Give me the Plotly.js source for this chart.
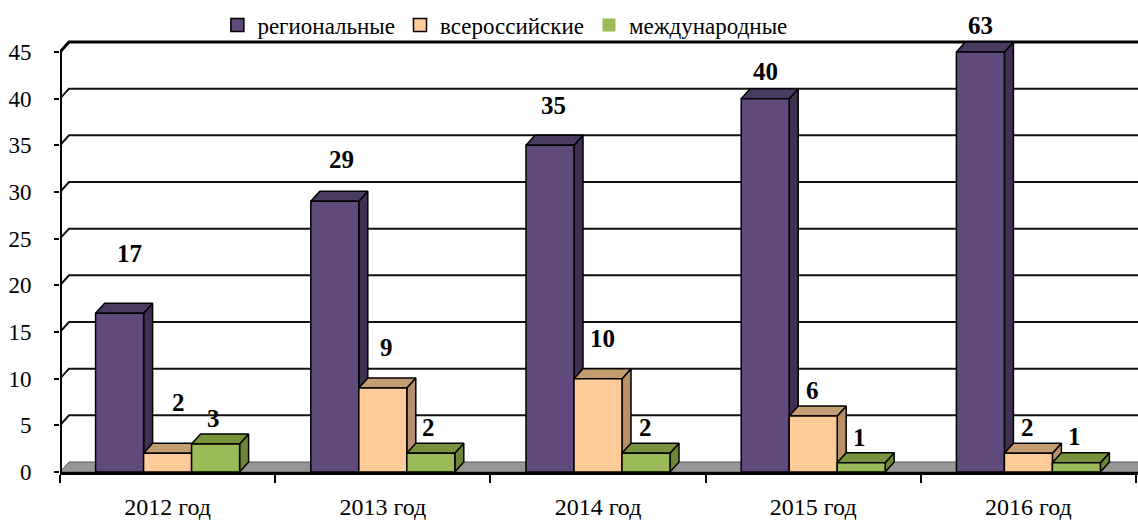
<!DOCTYPE html>
<html><head><meta charset="utf-8">
<script src="https://cdn.plot.ly/plotly-3.0.1.min.js"></script>
<style>html,body{margin:0;padding:0;background:#fff}#chart{width:1138px;height:521px}</style>
</head><body><div id="chart"></div>
<script>
// ---- data ----
const categories = ['2012 год', '2013 год', '2014 год', '2015 год', '2016 год'];
const seriesNames = ['региональные', 'всероссийские', 'международные'];
const regional = [17, 29, 35, 40, 63];
const allRussian = [2, 9, 10, 6, 2];
const international = [3, 2, 2, 1, 1];
const yTickVals = [0, 5, 10, 15, 20, 25, 30, 35, 40, 45];

// ---- style / geometry ----
const FONT = 'Liberation Serif, Times New Roman, serif';
const Y_CAP = 45;
const PX_PER_X = 215.2, PX_PER_Y = 420 / 45;
const DX = 9 / PX_PER_X, DY = 10 / PX_PER_Y;      // oblique depth
const BAR_W = 48 / PX_PER_X;
const styles = [
  {front: '#604A7B', top: '#4A3B61', side: '#3F3151', legendLine: 1.5},
  {front: '#FFCC99', top: '#C49C72', side: '#B8916A', legendLine: 1.5},
  {front: '#9BBB59', top: '#77933C', side: '#6A8636', legendLine: 0}
];
const labelDy = [[60, 42, 40, 27, 27], [51, 41, 40, 26, 26], [26, 26, 26, 25, 26]];
const labelDx = [[10, 7, 3, 0, 0], [11, 4, 4, -1, -1], [-2, -2, -1, -2, -2]];
const seriesValues = [regional, allRussian, international];

const traces = [];
const X_LEFT = -0.5, X_RIGHT = categories.length - 0.5 + 2 / PX_PER_X;

// back-wall gridlines with diagonal from the axis
{
  const gx = [], gy = [];
  yTickVals.slice(1, -1).forEach(v => {
    gx.push(X_LEFT, X_LEFT + DX, X_RIGHT + DX, null);
    gy.push(v, v + DY, v + DY, null);
  });
  traces.push({type: 'scatter', mode: 'lines', x: gx, y: gy, line: {color: '#111', width: 2},
    hoverinfo: 'skip', showlegend: false});
  const top = yTickVals[yTickVals.length - 1];
  traces.push({type: 'scatter', mode: 'lines', x: [X_LEFT, X_LEFT + DX, X_RIGHT + DX], y: [top, top + DY, top + DY],
    line: {color: '#000', width: 3}, hoverinfo: 'skip', showlegend: false});
}
// floor
traces.push({type: 'scatter', mode: 'lines', fill: 'toself', fillcolor: '#969696',
  x: [X_LEFT, X_LEFT + DX, X_RIGHT + DX, X_RIGHT, X_LEFT], y: [0, DY, DY, 0, 0],
  line: {color: '#555', width: 1}, hoverinfo: 'skip', showlegend: false});
// y axis line
traces.push({type: 'scatter', mode: 'lines', x: [X_LEFT, X_LEFT], y: [0, Y_CAP],
  line: {color: '#000', width: 4}, hoverinfo: 'skip', showlegend: false});

// 3D bars
const annotations = [];
seriesValues.forEach((vals, s) => {
  const off = (s - 1) * BAR_W;
  const sx = [], sy = [], tx = [], ty = [], fx = [], fy = [];
  vals.forEach((v, i) => {
    const h = Math.min(v, Y_CAP);
    const x0 = i + off - BAR_W / 2, x1 = i + off + BAR_W / 2;
    sx.push(x1, x1, x1 + DX, x1 + DX, x1, null); sy.push(0, h, h + DY, DY, 0, null);
    tx.push(x0, x0 + DX, x1 + DX, x1, x0, null); ty.push(h, h + DY, h + DY, h, h, null);
    fx.push(x0, x0, x1, x1, x0, null); fy.push(0, h, h, 0, 0, null);
    annotations.push({x: i + off, y: h, xref: 'x', yref: 'y', text: '<b>' + v + '</b>', showarrow: false,
      xshift: labelDx[s][i], yshift: labelDy[s][i], yanchor: 'middle',
      font: {family: FONT, size: 25, color: '#000'}});
  });
  const st = styles[s];
  [[sx, sy, st.side], [tx, ty, st.top], [fx, fy, st.front]].forEach(([x, y, c]) => {
    traces.push({type: 'scatter', mode: 'lines', fill: 'toself', fillcolor: c, x: x, y: y,
      line: {color: '#000', width: 1.5}, hoverinfo: 'skip', showlegend: false});
  });
});
// legend entries
seriesNames.forEach((n, s) => {
  traces.push({type: 'scatter', mode: 'markers', name: n, x: [-10], y: [-10],
    marker: {symbol: 'square', size: 13, color: styles[s].front, line: {color: '#000', width: styles[s].legendLine}},
    hoverinfo: 'skip'});
});

const layout = {
  width: 1138, height: 521,
  margin: {l: 60, r: 0, t: 38, b: 49},
  paper_bgcolor: '#fff', plot_bgcolor: '#fff',
  font: {family: FONT, color: '#000'},
  showlegend: true,
  legend: {orientation: 'h', x: 0.146, xanchor: 'left', y: 1.03, yanchor: 'middle',
    font: {family: FONT, size: 23, color: '#000'}, bgcolor: 'rgba(0,0,0,0)', itemclick: false},
  xaxis: {range: [X_LEFT, X_RIGHT], tickmode: 'array', tickvals: categories.map((c, i) => i), ticktext: categories,
    ticks: '', showgrid: false, zeroline: false, showline: true, linecolor: '#000', linewidth: 3,
    tickfont: {family: FONT, size: 24, color: '#000'}, ticklabelstandoff: 11,
    minor: {tickmode: 'array', tickvals: categories.map((c, i) => i - 0.5).concat([categories.length - 0.5]),
      ticks: 'outside', ticklen: 8, tickwidth: 2, tickcolor: '#000', showgrid: false},
    fixedrange: true},
  yaxis: {range: [0, 46.5], tickmode: 'array', tickvals: yTickVals, ticks: 'outside', ticklen: 5, tickwidth: 2,
    tickcolor: '#000', showgrid: false, zeroline: false, showline: false,
    tickfont: {family: FONT, size: 23, color: '#000'}, ticklabelstandoff: 18, fixedrange: true},
  annotations: annotations
};
Plotly.newPlot('chart', traces, layout, {staticPlot: true, displayModeBar: false});
</script></body></html>
